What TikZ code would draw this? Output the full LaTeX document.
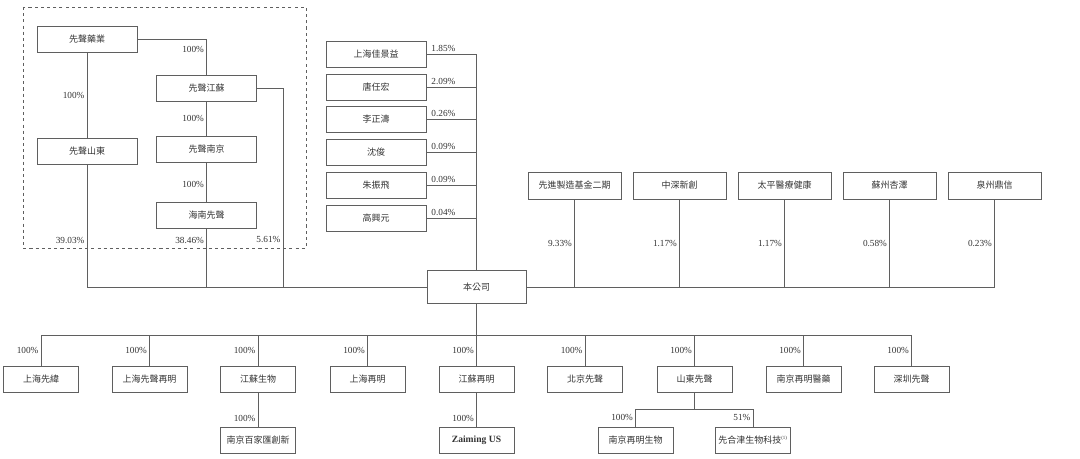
\documentclass[tikz,border=0pt]{standalone}
\usepackage{fontspec}
\setmainfont{Liberation Serif}
\newfontfamily\cjk{Noto Sans CJK TC}
\definecolor{gris}{RGB}{95,95,95}
\begin{document}
\begin{tikzpicture}[x=0.025cm,y=-0.025cm]

	%DEFINICIONES
	\tikzstyle{every node}=[font=\fontsize{6.6}{7.5}\selectfont]
	\tikzstyle{caja} = [draw=gris, align=center, line width=0.5pt, font=\cjk\fontsize{6.4}{7.5}\selectfont, text=black!80, minimum width=2.5cm, minimum height=0.65cm, inner sep=1pt]
	\tikzstyle{inversor} = [caja, minimum width=2.325cm, minimum height=0.675cm]
	\tikzstyle{filial} = [caja, minimum width=1.875cm, minimum height=0.65cm]
	\tikzstyle{pct} = [inner sep=1.5pt, text=black!80]
	\tikzstyle{linea} = [draw=gris, line width=0.6pt]
	\useasboundingbox (0,0) rectangle (1080,459);

	%GRUPO
	\draw[gris, line width=0.5pt, dash pattern=on 2.2pt off 2.2pt] (23,7) rectangle (306,248);
	\draw(87,39) node[caja](yaoye){先聲藥業};
	\draw(206.5,88) node[caja](jiangsu){先聲江蘇};
	\draw(87,151) node[caja](shandong){先聲山東};
	\draw(206.5,149.5) node[caja](nanjing){先聲南京};
	\draw(206.5,215) node[caja](hainan){海南先聲};

	%ACCIONISTAS
	\draw(376,54.5) node[caja](s1){上海佳景益};
	\draw(376,87) node[caja](s2){唐任宏};
	\draw(376,119.5) node[caja](s3){李正濤};
	\draw(376,152.5) node[caja](s4){沈俊};
	\draw(376,185.5) node[caja](s5){朱振飛};
	\draw(376,218) node[caja](s6){高興元};

	\draw(574.5,185.5) node[inversor](i1){先進製造基金二期};
	\draw(679.5,185.5) node[inversor](i2){中深新創};
	\draw(784.5,185.5) node[inversor](i3){太平醫療健康};
	\draw(889.5,185.5) node[inversor](i4){蘇州杏澤};
	\draw(994.5,185.5) node[inversor](i5){泉州鼎信};

	\draw(476.5,287) node[caja, minimum width=2.475cm, minimum height=0.825cm](gongsi){本公司};

	%FILIALES
	\draw(41,379) node[filial](f1){上海先緯};
	\draw(149.5,379) node[filial](f2){上海先聲再明};
	\draw(258,379) node[filial](f3){江蘇生物};
	\draw(367.5,379) node[filial](f4){上海再明};
	\draw(476.5,379) node[filial](f5){江蘇再明};
	\draw(585,379) node[filial](f6){北京先聲};
	\draw(694.5,379) node[filial](f7){山東先聲};
	\draw(803.5,379) node[filial](f8){南京再明醫藥};
	\draw(911.5,379) node[filial](f9){深圳先聲};

	\draw(258,440) node[filial](g1){南京百家匯創新};
	\draw(476.5,440) node[filial, font=\fontsize{6.8}{8}\selectfont\bfseries](g2){Zaiming US};
	\draw(635.5,440) node[filial](g3){南京再明生物};
	\draw(753,440) node[filial](g4){先合津生物科技\textsuperscript{\rmfamily\fontsize{3.5}{4}\selectfont(1)}};

	\coordinate (k) at (283,287);
	\coordinate (bus) at (476.5,335);
	\coordinate (sd) at (694.5,409);

	%LINEAS
	\draw [linea] (yaoye.east) -| node[pct, pos=0.65, left]{100\%} (jiangsu.north);
	\draw [linea] (yaoye.south) -- node[pct, midway, left]{100\%} (shandong.north);
	\draw [linea] (jiangsu.south) -- node[pct, midway, left]{100\%} (nanjing.north);
	\draw [linea] (nanjing.south) -- node[pct, pos=0.55, left]{100\%} (hainan.north);
	\draw [linea] (shandong.south) |- node[pct, pos=0.31, left]{39.03\%} (gongsi.west);
	\draw [linea] (hainan.south) |- node[pct, pos=0.1, left]{38.46\%} (gongsi.west);
	\draw [linea] (jiangsu.east) -| node[pct, pos=0.88, left]{5.61\%} (k) -- (gongsi.west);

	\draw [linea] (s1.east) -| node[pct, pos=0.17, above]{1.85\%} (gongsi.north);
	\draw [linea] (s2.east) -| node[pct, pos=0.17, above]{2.09\%} (gongsi.north);
	\draw [linea] (s3.east) -| node[pct, pos=0.17, above]{0.26\%} (gongsi.north);
	\draw [linea] (s4.east) -| node[pct, pos=0.17, above]{0.09\%} (gongsi.north);
	\draw [linea] (s5.east) -| node[pct, pos=0.17, above]{0.09\%} (gongsi.north);
	\draw [linea] (s6.east) -| node[pct, pos=0.17, above]{0.04\%} (gongsi.north);

	\draw [linea] (i1.south) |- node[pct, pos=0.25, left]{9.33\%} (gongsi.east);
	\draw [linea] (i2.south) |- node[pct, pos=0.25, left]{1.17\%} (gongsi.east);
	\draw [linea] (i3.south) |- node[pct, pos=0.25, left]{1.17\%} (gongsi.east);
	\draw [linea] (i4.south) |- node[pct, pos=0.25, left]{0.58\%} (gongsi.east);
	\draw [linea] (i5.south) |- node[pct, pos=0.25, left]{0.23\%} (gongsi.east);

	\draw [linea] (gongsi.south) -- (bus);
	\draw [linea] (bus) -| node[pct, pos=0.75, left]{100\%} (f1.north);
	\draw [linea] (bus) -| node[pct, pos=0.75, left]{100\%} (f2.north);
	\draw [linea] (bus) -| node[pct, pos=0.75, left]{100\%} (f3.north);
	\draw [linea] (bus) -| node[pct, pos=0.75, left]{100\%} (f4.north);
	\draw [linea] (bus) -| node[pct, pos=0.75, left]{100\%} (f5.north);
	\draw [linea] (bus) -| node[pct, pos=0.75, left]{100\%} (f6.north);
	\draw [linea] (bus) -| node[pct, pos=0.75, left]{100\%} (f7.north);
	\draw [linea] (bus) -| node[pct, pos=0.75, left]{100\%} (f8.north);
	\draw [linea] (bus) -| node[pct, pos=0.75, left]{100\%} (f9.north);

	\draw [linea] (f3.south) -- node[pct, pos=0.75, left]{100\%} (g1.north);
	\draw [linea] (f5.south) -- node[pct, pos=0.75, left]{100\%} (g2.north);
	\draw [linea] (f7.south) -- (sd);
	\draw [linea] (sd) -| node[pct, pos=0.75, left]{100\%} (g3.north);
	\draw [linea] (sd) -| node[pct, pos=0.75, left]{51\%} (g4.north);
\end{tikzpicture}
\end{document}
